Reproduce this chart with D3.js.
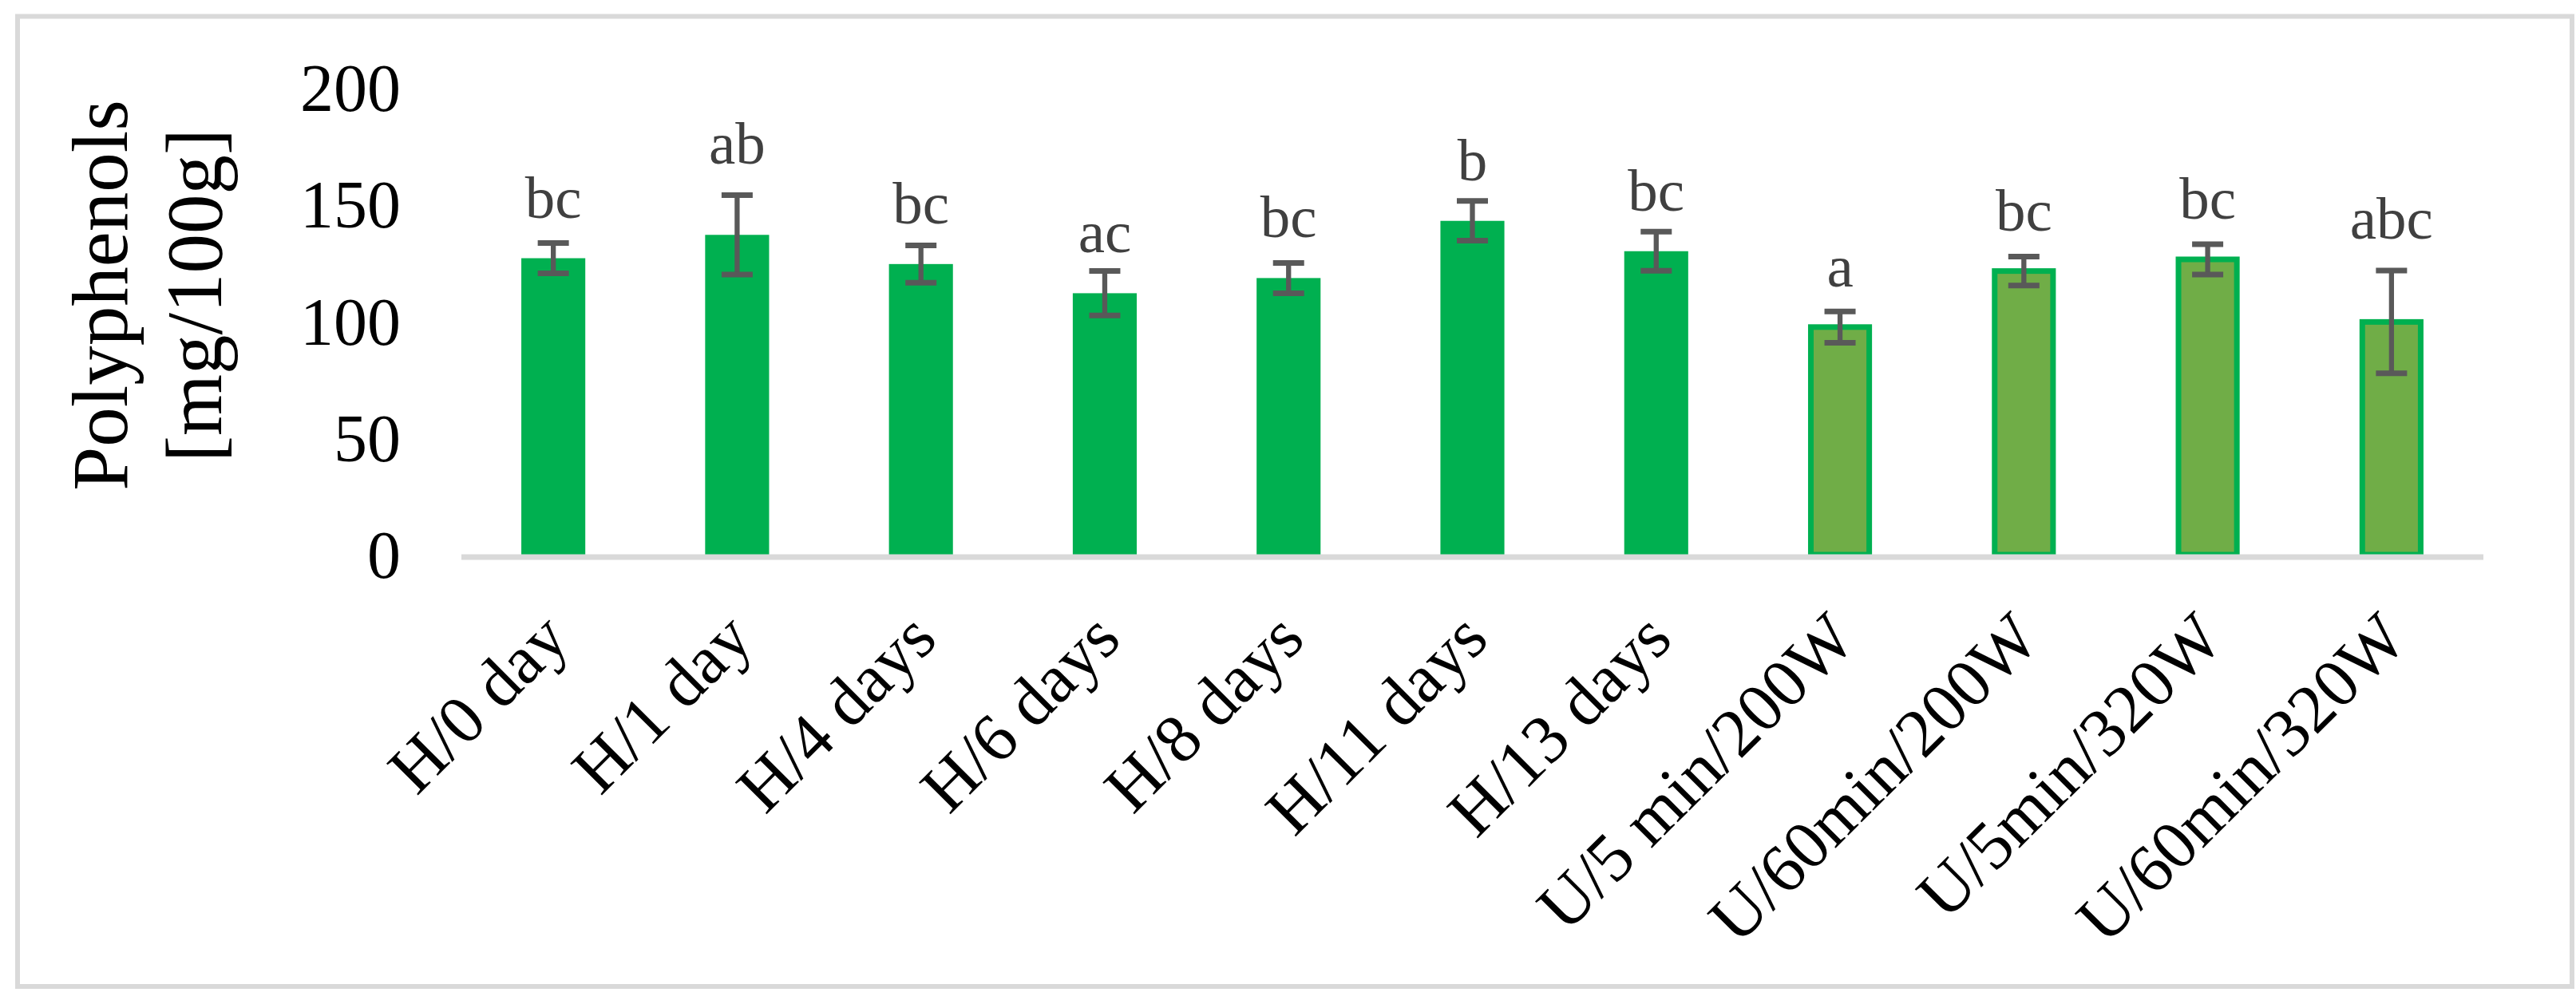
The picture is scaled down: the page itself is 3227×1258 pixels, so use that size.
<!DOCTYPE html>
<html>
<head>
<meta charset="utf-8">
<script src="https://cdn.jsdelivr.net/npm/d3@7"></script>
<style>
  html, body { margin: 0; padding: 0; background: #fff; }
  svg { display: block; }
</style>
</head>
<body>
<svg id="chart" width="3227" height="1258"></svg>
<script>
// categories and values
const categories = ["H/0 day", "H/1 day", "H/4 days", "H/6 days", "H/8 days", "H/11 days",
    "H/13 days", "U/5 min/200W", "U/60min/200W", "U/5min/320W", "U/60min/320W"];
const groups = ["H", "H", "H", "H", "H", "H", "H", "U", "U", "U", "U"];
const means = [127, 137, 124.5, 112, 118.5, 143, 130, 97.5, 121.5, 126.5, 99.7];
const errors = [6.5, 17, 8, 9.5, 6.5, 8.5, 8.4, 6.7, 6.2, 6.5, 22];
const letters = ["bc", "ab", "bc", "ac", "bc", "b", "bc", "a", "bc", "bc", "abc"];
const yTicks = [0, 50, 100, 150, 200];

const data = categories.map((c, i) => ({
    name: c, group: groups[i], mean: means[i], err: errors[i], letter: letters[i]
}));

const font = "'Liberation Serif', 'Times New Roman', serif";
const svg = d3.select("#chart");

// chart area border
svg.append("rect")
    .attr("x", 22).attr("y", 20.5)
    .attr("width", 3200).attr("height", 1215.5)
    .attr("fill", "#fff")
    .attr("stroke", "#d9d9d9")
    .attr("stroke-width", 6);

const x = d3.scaleBand()
    .domain(categories)
    .range([578, 3111])
    .paddingInner(0.652)
    .paddingOuter(0.326);

const y = d3.scaleLinear()
    .domain([0, 200])
    .range([695, 110]);

// y tick labels (no axis line, no ticks)
const yAxis = d3.axisLeft(y).tickValues(yTicks).tickSize(0).tickPadding(0);
const yG = svg.append("g")
    .attr("transform", "translate(502,0)")
    .call(yAxis);
yG.select(".domain").remove();
yG.selectAll("text")
    .attr("dy", "0.34em")
    .attr("fill", "#000")
    .attr("font-size", 84)
    .attr("font-family", font);

// y axis title
const title = svg.append("text")
    .attr("transform", "translate(0,370) rotate(-90)")
    .attr("text-anchor", "middle")
    .attr("font-size", 99)
    .attr("font-family", font)
    .attr("fill", "#000");
title.append("tspan").attr("x", 0).attr("y", 159).text("Polyphenols");
title.append("tspan").attr("x", 0).attr("y", 277).text("[mg/100g]");

// bars
const bw = x.bandwidth();
const sw = 7;
const bars = svg.append("g").selectAll("rect").data(data);

bars.enter().append("rect")
    .attr("x", d => d.group === "H" ? x(d.name) : x(d.name) + sw / 2)
    .attr("y", d => y(d.mean))
    .attr("width", d => d.group === "H" ? bw : bw - sw)
    .attr("height", d => y(0) - y(d.mean))
    .attr("fill", d => d.group === "H" ? "#00b050" : "#70ad47")
    .attr("stroke", d => d.group === "H" ? "none" : "#00b050")
    .attr("stroke-width", sw);

// category axis line
svg.append("line")
    .attr("x1", 578).attr("x2", 3111)
    .attr("y1", y(0) + 3).attr("y2", y(0) + 3)
    .attr("stroke", "#d9d9d9")
    .attr("stroke-width", 7);

// error bars
const errG = svg.append("g")
    .attr("stroke", "#595959")
    .selectAll("g").data(data).enter().append("g")
    .attr("transform", d => "translate(" + (x(d.name) + bw / 2) + ",0)");

errG.append("line")
    .attr("stroke-width", 6.3)
    .attr("x1", 0).attr("x2", 0)
    .attr("y1", d => y(d.mean + d.err))
    .attr("y2", d => y(d.mean - d.err));
errG.append("line")
    .attr("stroke-width", 7)
    .attr("x1", -19.5).attr("x2", 19.5)
    .attr("y1", d => y(d.mean + d.err))
    .attr("y2", d => y(d.mean + d.err));
errG.append("line")
    .attr("stroke-width", 7)
    .attr("x1", -19.5).attr("x2", 19.5)
    .attr("y1", d => y(d.mean - d.err))
    .attr("y2", d => y(d.mean - d.err));

// significance letters: above the bar, lifted over long error bars
function letterY(d) {
    const base = y(d.mean) - 51;
    const cap = y(d.mean + d.err);
    return cap < base + 10 ? cap - 40 : base;
}

svg.append("g").selectAll("text").data(data).enter().append("text")
    .attr("x", d => x(d.name) + bw / 2)
    .attr("y", letterY)
    .attr("text-anchor", "middle")
    .attr("font-size", 75)
    .attr("font-family", font)
    .attr("fill", "#404040")
    .text(d => d.letter);

// rotated category labels
svg.append("g").selectAll("text").data(categories).enter().append("text")
    .attr("transform", d => "translate(" + (x(d) + bw / 2 + 23) + ",804) rotate(-45)")
    .attr("text-anchor", "end")
    .attr("font-size", 86)
    .attr("font-family", font)
    .attr("fill", "#000")
    .text(d => d);
</script>
</body>
</html>
